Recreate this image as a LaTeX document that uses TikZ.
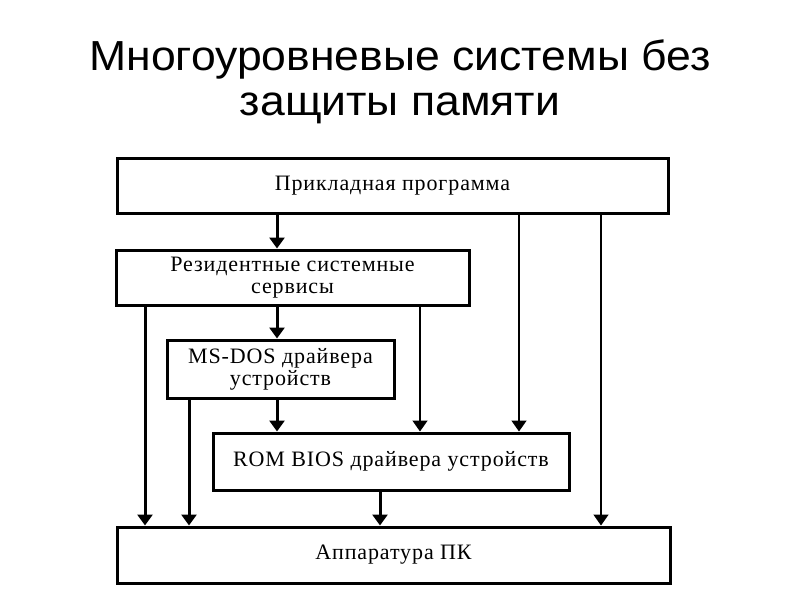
\documentclass[tikz,border=0pt]{standalone}
\usepackage{fontspec}
\setmainfont{Liberation Serif}
\newfontfamily\titlefont[FakeStretch=1.06]{Liberation Sans}
\newfontfamily\boxfont[LetterSpace=4]{Liberation Serif}
\usetikzlibrary{arrows.meta}
\begin{document}
\begin{tikzpicture}[x=1pt,y=-1pt,
  blk/.style={draw,line width=3pt,inner sep=0pt,font=\boxfont\fontsize{22}{22}\selectfont,align=center},
  ttl/.style={font=\titlefont\fontsize{42}{45}\selectfont,anchor=base},
  thk/.style={line width=3pt,-{Triangle[width=15pt,length=11pt]}},
  thn/.style={line width=1.6pt,-{Triangle[width=15pt,length=11pt]}}]
\useasboundingbox (0,0) rectangle (800,600);
\fill[white] (0,0) rectangle (800,600);
\node[ttl] (title1) at (400,70) {Многоуровневые системы без};
\node[ttl] (title2) at (400,115) {защиты памяти};
\node[blk,minimum width=551pt,minimum height=55pt] (app) at (392.5,185.5) {Прикладная программа};
\node[blk,minimum width=353pt,minimum height=55pt] (res) at (292.5,277.5) {Резидентные системные\\сервисы};
\node[blk,minimum width=227pt,minimum height=58pt] (dos) at (280.5,369) {MS-DOS драйвера\\устройств};
\node[blk,minimum width=356pt,minimum height=57pt] (bios) at (391,461.5) {ROM BIOS драйвера устройств};
\node[blk,minimum width=553pt,minimum height=56pt] (hw) at (393.5,555) {Аппаратура ПК};
\draw[thk] (app.south -| 277,0) -- (res.north -| 277,0);
\draw[thn] (app.south -| 519,0) -- (bios.north -| 519,0);
\draw[thn] (app.south -| 601,0) -- (hw.north -| 601,0);
\draw[thk] (res.south -| 277,0) -- (dos.north -| 277,0);
\draw[thn] (res.south -| 420,0) -- (bios.north -| 420,0);
\draw[thk] (res.south -| 145,0) -- (hw.north -| 145,0);
\draw[thk] (dos.south -| 277,0) -- (bios.north -| 277,0);
\draw[thk] (dos.south -| 189,0) -- (hw.north -| 189,0);
\draw[thk] (bios.south -| 380,0) -- (hw.north -| 380,0);
\end{tikzpicture}
\end{document}
